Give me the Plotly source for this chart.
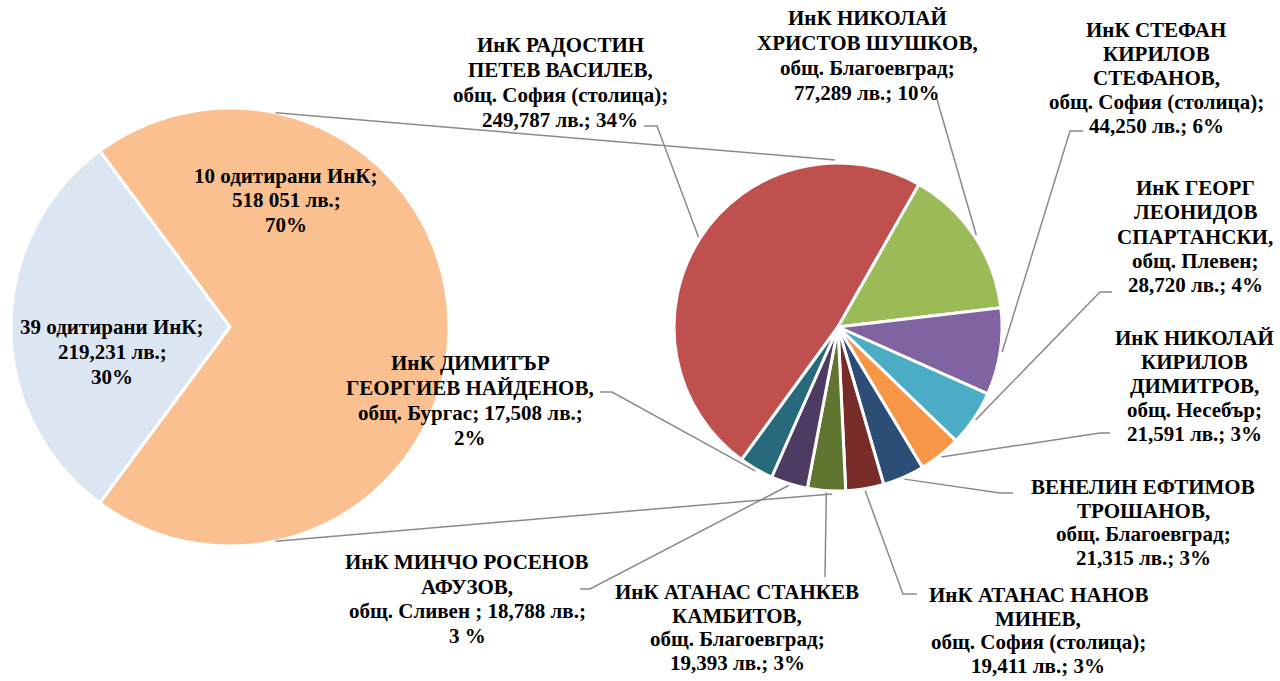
import math
import plotly.graph_objects as go

W, H = 1280, 681

# ---------------- data ----------------
left_labels = ["39 одитирани ИнК", "10 одитирани ИнК"]
left_values = [219231, 518051]
left_colors = ["#DCE6F2", "#FAC090"]
left_texts = [
    ["39 одитирани ИнК;", "219,231 лв.;", "30%"],
    ["10 одитирани ИнК;", "518 051 лв.;", "70%"],
]

right_labels = [
    "ИнК РАДОСТИН ПЕТЕВ ВАСИЛЕВ",
    "ИнК НИКОЛАЙ ХРИСТОВ ШУШКОВ",
    "ИнК СТЕФАН КИРИЛОВ СТЕФАНОВ",
    "ИнК ГЕОРГ ЛЕОНИДОВ СПАРТАНСКИ",
    "ИнК НИКОЛАЙ КИРИЛОВ ДИМИТРОВ",
    "ВЕНЕЛИН ЕФТИМОВ ТРОШАНОВ",
    "ИнК АТАНАС НАНОВ МИНЕВ",
    "ИнК АТАНАС СТАНКЕВ КАМБИТОВ",
    "ИнК МИНЧО РОСЕНОВ АФУЗОВ",
    "ИнК ДИМИТЪР ГЕОРГИЕВ НАЙДЕНОВ",
]
right_values = [249787, 77289, 44250, 28720, 21591, 21315, 19411, 19393, 18788, 17508]
right_colors = ["#C0504D", "#9BBB59", "#8064A2", "#4BACC6", "#F79646",
                "#2C4D75", "#772C2A", "#5F7530", "#4D3B62", "#276A7C"]
right_texts = [
    ["ИнК РАДОСТИН", "ПЕТЕВ ВАСИЛЕВ,", "общ. София (столица);", "249,787 лв.; 34%"],
    ["ИнК НИКОЛАЙ", "ХРИСТОВ ШУШКОВ,", "общ. Благоевград;", "77,289 лв.; 10%"],
    ["ИнК СТЕФАН", "КИРИЛОВ", "СТЕФАНОВ,", "общ. София (столица);", "44,250 лв.; 6%"],
    ["ИнК ГЕОРГ", "ЛЕОНИДОВ", "СПАРТАНСКИ,", "общ. Плевен;", "28,720 лв.; 4%"],
    ["ИнК НИКОЛАЙ", "КИРИЛОВ", "ДИМИТРОВ,", "общ. Несебър;", "21,591 лв.; 3%"],
    ["ВЕНЕЛИН ЕФТИМОВ", "ТРОШАНОВ,", "общ. Благоевград;", "21,315 лв.; 3%"],
    ["ИнК АТАНАС НАНОВ", "МИНЕВ,", "общ. София (столица);", "19,411 лв.; 3%"],
    ["ИнК АТАНАС СТАНКЕВ", "КАМБИТОВ,", "общ. Благоевград;", "19,393 лв.; 3%"],
    ["ИнК МИНЧО РОСЕНОВ", "АФУЗОВ,", "общ. Сливен ; 18,788 лв.;", "3 %"],
    ["ИнК ДИМИТЪР", "ГЕОРГИЕВ НАЙДЕНОВ,", "общ. Бургас; 17,508 лв.;", "2%"],
]

# ---------------- layout (pixels) ----------------
LC, LR = (230, 327), 219
RC, RR = (838, 327), 164
L_ROT, R_ROT = 216.5, 216

FONT = dict(family="'Times New Roman', 'Liberation Serif', Tinos, 'DejaVu Serif', serif",
            size=21, color="black", weight="bold")
LINE_COLOR = "#8a8a8a"

# label placement: (center x, first line y, line spacing, leader points from label side)
right_label_pos = [
    (560, 45, 25, [(644, 126), (657, 126)]),
    (867, 18, 25, [(936, 96)]),
    (1156, 30, 24, [(1083, 131), (1070, 131)]),
    (1195, 188, 24.3, [(1112, 292), (1100, 292)]),
    (1194, 338, 24, [(1110, 433), (1100, 433)]),
    (1143, 487, 23.5, [(1013, 493), (1000, 493)]),
    (1038, 595, 23.5, [(917, 594), (903, 594)]),
    (737, 592, 23.5, [(825, 577)]),
    (467, 562, 24.5, [(580, 589), (590, 589)]),
    (470, 363, 25, [(600, 392), (612, 392)]),
]
left_label_pos = [(112, 327, 25), (286, 176, 24.5)]


def px(x):
    return x / W


def py(y):
    return 1 - y / H


def mid_angles(values, rotation):
    total = sum(values)
    acc = 0
    out = []
    for v in values:
        out.append(rotation + (acc + v / 2) / total * 360)
        acc += v
    return out


def point_on(c, r, ang):
    a = math.radians(ang)
    return (c[0] + r * math.sin(a), c[1] - r * math.cos(a))


fig = go.Figure()
fig.add_trace(go.Pie(
    values=left_values, labels=left_labels, sort=False, direction="clockwise",
    rotation=L_ROT, textinfo="none", showlegend=False,
    marker=dict(colors=left_colors, line=dict(color="white", width=3)),
    domain=dict(x=[px(LC[0] - LR), px(LC[0] + LR)], y=[py(LC[1] + LR), py(LC[1] - LR)]),
))
fig.add_trace(go.Pie(
    values=right_values, labels=right_labels, sort=False, direction="clockwise",
    rotation=R_ROT, textinfo="none", showlegend=False,
    marker=dict(colors=right_colors, line=dict(color="white", width=3)),
    domain=dict(x=[px(RC[0] - RR), px(RC[0] + RR)], y=[py(RC[1] + RR), py(RC[1] - RR)]),
))

shapes = []
annotations = []


def add_path(points):
    d = "M " + " L ".join(f"{px(x):.5f},{py(y):.5f}" for x, y in points)
    shapes.append(dict(type="path", path=d, xref="paper", yref="paper",
                       line=dict(color=LINE_COLOR, width=1.5), layer="above"))


# connector lines between the pies
add_path([point_on(LC, LR, 12), point_on(RC, RR + 3, -1)])
add_path([point_on(LC, LR, 168), point_on(RC, RR + 3, 182)])

# leader lines for right pie
for ang, (cx, y0, sp, pts) in zip(mid_angles(right_values, R_ROT), right_label_pos):
    anchor = point_on(RC, RR + 2, ang)
    add_path(pts + [anchor])

# text annotations
for lines, (cx, y0, sp, _) in zip(right_texts, right_label_pos):
    for i, t in enumerate(lines):
        annotations.append(dict(x=px(cx), y=py(y0 + i * sp), xref="paper", yref="paper",
                                text=t, showarrow=False, xanchor="center", yanchor="middle",
                                font=FONT))
for lines, (cx, y0, sp) in zip(left_texts, left_label_pos):
    for i, t in enumerate(lines):
        annotations.append(dict(x=px(cx), y=py(y0 + i * sp), xref="paper", yref="paper",
                                text=t, showarrow=False, xanchor="center", yanchor="middle",
                                font=FONT))

fig.update_layout(
    width=W, height=H, margin=dict(l=0, r=0, t=0, b=0),
    paper_bgcolor="white", plot_bgcolor="white",
    font=dict(family=FONT["family"]),
    shapes=shapes, annotations=annotations, showlegend=False,
)
fig.write_html("out.html", config={"displayModeBar": False},
               post_script="document.body.style.margin='0';document.body.style.overflow='hidden';")
